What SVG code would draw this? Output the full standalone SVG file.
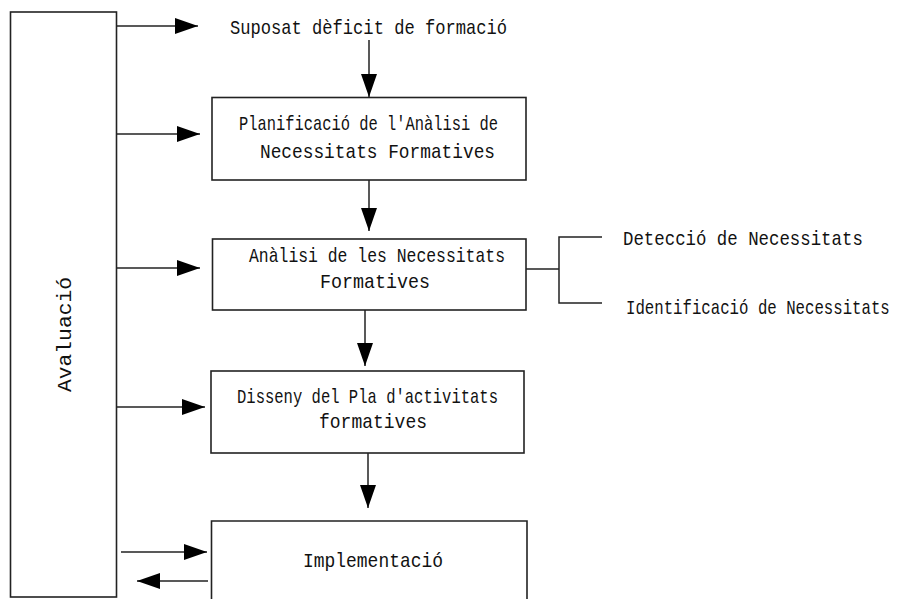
<svg xmlns="http://www.w3.org/2000/svg" width="897" height="599" viewBox="0 0 897 599">
<defs>
<marker id="ah" markerUnits="userSpaceOnUse" markerWidth="23" markerHeight="16" refX="23" refY="8" orient="auto">
<path d="M0,0 L23,8 L0,16 z" fill="#000"/>
</marker>
<style>
.box{fill:#fff;stroke:#222;stroke-width:1.6}
.ln{fill:none;stroke:#222;stroke-width:1.5}
.ar{fill:none;stroke:#222;stroke-width:1.5;marker-end:url(#ah)}
text{font-family:"Liberation Mono","DejaVu Sans Mono",monospace;font-size:21px;fill:#111}
</style>
</defs>
<rect width="897" height="599" fill="#fff"/>
<g id="connectors">
<line class="ar" x1="117" y1="26" x2="198" y2="26"/>
<line class="ar" x1="117" y1="134" x2="200" y2="134"/>
<line class="ar" x1="117" y1="268" x2="200" y2="268"/>
<line class="ar" x1="117" y1="407" x2="205" y2="407"/>
<line class="ar" x1="121" y1="552" x2="207" y2="552"/>
<line class="ar" x1="208" y1="581" x2="137" y2="581"/>
<line class="ar" x1="369" y1="40" x2="369" y2="97"/>
<line class="ar" x1="369" y1="180" x2="369" y2="231"/>
<line class="ar" x1="365" y1="310" x2="365" y2="366"/>
<line class="ar" x1="368" y1="453" x2="368" y2="508"/>
<polyline class="ln" points="526,269 559,269"/>
<polyline class="ln" points="602,237 559,237 559,303 602,303"/>
</g>
<g id="avaluacio">
<rect class="box" x="10.5" y="12" width="106" height="585"/>
<text transform="translate(71,392) rotate(-90)" x="0" y="0" textLength="115" lengthAdjust="spacingAndGlyphs">Avaluació</text>
</g>
<g id="suposat">
<text x="230" y="34" textLength="277" lengthAdjust="spacingAndGlyphs">Suposat dèficit de formació</text>
</g>
<g id="planificacio">
<rect class="box" x="212" y="97.5" width="314" height="82.5"/>
<text x="239" y="130" textLength="259" lengthAdjust="spacingAndGlyphs">Planificació de l'Anàlisi de</text>
<text x="260" y="158" textLength="235" lengthAdjust="spacingAndGlyphs">Necessitats Formatives</text>
</g>
<g id="analisi">
<rect class="box" x="212.5" y="239" width="313.5" height="71"/>
<text x="249" y="262" textLength="256" lengthAdjust="spacingAndGlyphs">Anàlisi de les Necessitats</text>
<text x="320" y="288" textLength="110" lengthAdjust="spacingAndGlyphs">Formatives</text>
</g>
<g id="deteccio">
<text transform="translate(623,245) scale(0.828,1)" x="0" y="0">Detecció de Necessitats</text>
</g>
<g id="identificacio">
<text transform="translate(626,314) scale(0.748,1)" x="0" y="0">Identificació de Necessitats</text>
</g>
<g id="disseny">
<rect class="box" x="211" y="371" width="313" height="82"/>
<text x="237" y="403" textLength="261" lengthAdjust="spacingAndGlyphs">Disseny del Pla d'activitats</text>
<text x="319" y="428" textLength="108" lengthAdjust="spacingAndGlyphs">formatives</text>
</g>
<g id="implementacio">
<path class="box" d="M211.5,600 V521 H527 V600"/>
<text x="303" y="567" textLength="140" lengthAdjust="spacingAndGlyphs">Implementació</text>
</g>
</svg>
